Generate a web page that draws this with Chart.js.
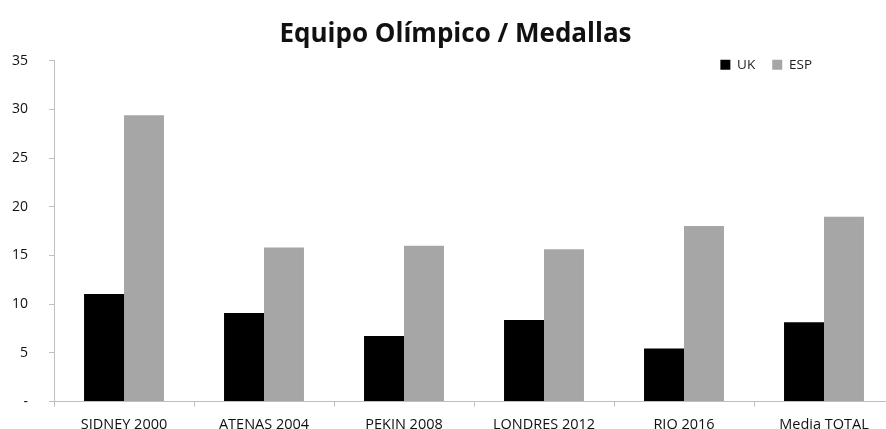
<!DOCTYPE html>
<html>
<head>
<meta charset="utf-8">
<script src="https://cdn.jsdelivr.net/npm/chart.js@4.4.1/dist/chart.umd.min.js"></script>
<style>
  html, body { margin: 0; padding: 0; background: #fff; overflow: hidden; }
  #wrap { width: 920px; height: 444px; position: relative; }
</style>
</head>
<body>
<div id="wrap"><canvas id="chart"></canvas></div>
<script>
const categories = ["SIDNEY 2000", "ATENAS 2004", "PEKIN 2008", "LONDRES 2012", "RIO 2016", "Media TOTAL"];
const ukValues = [11.06, 9.1, 6.73, 8.38, 5.46, 8.15];
const espValues = [29.41, 15.82, 16.0, 15.65, 18.02, 18.98];
const seriesNames = ["UK", "ESP"];

const FONT = "'Open Sans', sans-serif";

// legend sits inside the plot (top right) and takes no layout space;
// title is nudged so it is centred like the original
const placer = {
  id: "placer",
  afterInit(chart) {
    const lg = chart.legend;
    const fit = lg.fit.bind(lg);
    lg.fit = function () {
      fit();
      this._fullH = this.height;
      this.height = 0;
    };
  },
  afterLayout(chart) {
    const lg = chart.legend;
    lg.left -= 65;
    lg.right -= 65;
    lg.top = 41;
    lg.height = lg._fullH;
    lg.bottom = lg.top + lg._fullH;
    const t = chart.titleBlock;
    t.left += 13;
    t.right += 13;
  }
};

new Chart(document.getElementById("chart"), {
  type: "bar",
  data: {
    labels: categories,
    datasets: [
      { label: seriesNames[0], data: ukValues, backgroundColor: "#000000" },
      { label: seriesNames[1], data: espValues, backgroundColor: "#a6a6a6" }
    ]
  },
  options: {
    responsive: true,
    maintainAspectRatio: false,
    animation: false,
    layout: { padding: { left: -9, right: 26, top: 0, bottom: 0 } },
    datasets: { bar: { barPercentage: 1, categoryPercentage: 0.571 } },
    plugins: {
      title: {
        display: true,
        text: "Equipo Olímpico / Medallas",
        color: "#111",
        font: { family: FONT, size: 26, weight: "bold" },
        padding: { top: 19, bottom: 10.5 }
      },
      legend: {
        position: "top",
        align: "end",
        labels: {
          boxWidth: 10,
          boxHeight: 10,
          padding: 17,
          color: "#222",
          font: { family: FONT, size: 13.5 }
        }
      },
      tooltip: { enabled: false }
    },
    scales: {
      x: {
        grid: { display: true, drawOnChartArea: false, drawTicks: true, tickLength: 5, color: "#bfbfbf", offset: true },
        border: { display: true, color: "#bfbfbf" },
        ticks: { color: "#111", padding: 10, font: { family: FONT, size: 14.5 } }
      },
      y: {
        min: 0,
        max: 35,
        grid: { display: true, drawOnChartArea: false, drawTicks: true, tickLength: 5, color: "#bfbfbf" },
        border: { display: true, color: "#bfbfbf" },
        ticks: {
          stepSize: 5,
          color: "#111",
          padding: 21,
          font: { family: FONT, size: 14 },
          callback: v => v === 0 ? "-" : v
        }
      }
    }
  },
  plugins: [placer]
});
</script>
</body>
</html>
